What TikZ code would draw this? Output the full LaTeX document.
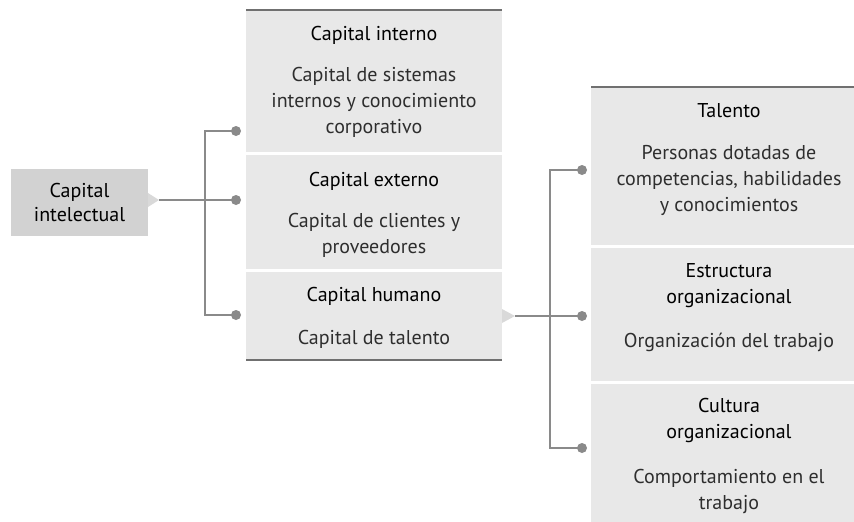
\documentclass[tikz,border=0pt]{standalone}
\usepackage{fontspec}
\setmainfont{PT Sans}
\usetikzlibrary{positioning}
\usetikzlibrary{calc}
\definecolor{panelgray}{HTML}{E8E8E8}
\definecolor{rootgray}{HTML}{D2D2D2}
\definecolor{tipgray}{HTML}{D9D9D9}
\definecolor{linkgray}{HTML}{8A8A8A}
\definecolor{rulegray}{HTML}{707070}
\definecolor{textgray}{HTML}{2E2E2E}
\tikzset{
  box/.style       = { rectangle, inner sep=0pt, outer sep=0pt },
  panel/.style     = { box, fill=panelgray, minimum width=256pt },
  widepanel/.style = { panel, minimum width=276pt },
  root/.style      = { box, fill=rootgray, minimum width=137pt, minimum height=67pt,
                       align=center, font=\fontsize{20}{24}\selectfont, text=black },
  caption/.style   = { inner sep=0pt, align=center, font=\fontsize{20}{26}\selectfont, text=textgray },
  link/.style      = { draw=linkgray, line width=2.2pt },
  dot/.style       = { fill=linkgray },
  tip/.style       = { fill=tipgray },
  topline/.style   = { draw=rulegray, line width=2pt }
}
\newcommand{\boxhead}[1]{\textcolor{black}{#1}}

\begin{document}
\begin{tikzpicture}[x=1pt, y=-1pt, node distance=3pt]
  \useasboundingbox (0,0) rectangle (854,522);
  \clip (0,0) rectangle (854,522);

  % left
  \node (intelectual) [root] at (79.5,202) {Capital\\intelectual};

  % middle column
  \node (interno) [panel, minimum height=142pt, anchor=north west] at (246,10) {};
  \node (externo) [panel, minimum height=114pt, below=of interno] {};
  \node (humano)  [panel, minimum height=88pt,  below=of externo] {};
  \draw [topline] (interno.north west) -- (interno.north east);
  \draw [topline] (humano.south west)  -- (humano.south east);

  % right column
  \node (talento)    [widepanel, minimum height=158pt, anchor=north west] at (591,87) {};
  \node (estructura) [widepanel, minimum height=133pt, below=of talento] {};
  \node (cultura)    [widepanel, minimum height=140pt, below=of estructura] {};
  \draw [topline] (talento.north west) -- (talento.north east);

  % texts
  \node (internotext)    [caption, below=16.5pt of interno.north]
    {\boxhead{Capital interno}\\[15pt]Capital de sistemas\\internos y conocimiento\\corporativo};
  \node (externotext)    [caption, below=17.5pt of externo.north]
    {\boxhead{Capital externo}\\[15pt]Capital de clientes y\\proveedores};
  \node (humanotext)     [caption, below=15pt of humano.north]
    {\boxhead{Capital humano}\\[17pt]Capital de talento};
  \node (talentotext)    [caption, below=16.5pt of talento.north]
    {\boxhead{Talento}\\[16pt]Personas dotadas de\\competencias, habilidades\\y conocimientos};
  \node (estructuratext) [caption, below=15pt of estructura.north]
    {\boxhead{Estructura}\\\boxhead{organizacional}\\[18pt]Organización del trabajo};
  \node (culturatext)    [caption, below=14pt of cultura.north]
    {\boxhead{Cultura}\\\boxhead{organizacional}\\[19pt]Comportamiento en el\\trabajo};

  % connectors
  \coordinate (inbase) at ($(intelectual.east)+(0,-2)$);
  \coordinate (intip)  at ($(inbase)+(11,0)$);
  \coordinate (dotint) at (236,131);
  \coordinate (dotext) at (intip -| dotint);
  \coordinate (dothum) at (236,315);
  \fill [tip] ($(inbase)+(0,-7)$) -- (intip) -- ($(inbase)+(0,7)$) -- cycle;
  \draw [link] (intip) -- (dotext);
  \draw [link] (dotint) -- ++(-31,0) |- (dothum);

  \coordinate (humtip) at ($(humano.east)+(13,0)$);
  \coordinate (dottal) at (582,170);
  \coordinate (dotest) at (humtip -| dottal);
  \coordinate (dotcul) at (582,448);
  \fill [tip] ($(humano.east)+(0,-7)$) -- (humtip) -- ($(humano.east)+(0,7)$) -- cycle;
  \draw [link] (humtip) -- (dotest);
  \draw [link] (dottal) -- ++(-32,0) |- (dotcul);

  \foreach \d in {dotint,dotext,dothum,dottal,dotest,dotcul}
    \fill [dot] (\d) circle (5);
\end{tikzpicture}
\end{document}
